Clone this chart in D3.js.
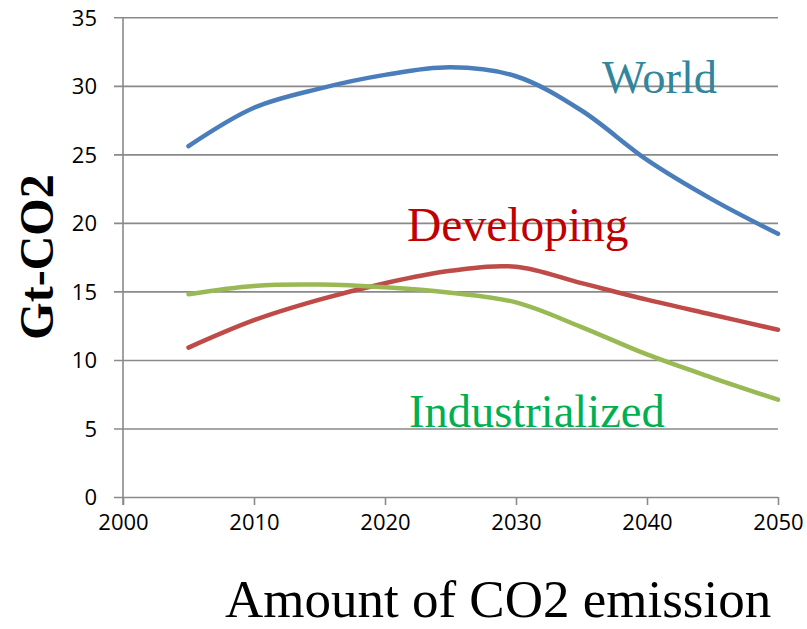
<!DOCTYPE html>
<html><head><meta charset="utf-8">
<script src="https://cdn.jsdelivr.net/npm/d3@7"></script>
<style>
html,body{margin:0;padding:0;background:#fff;}
svg{display:block;}
</style></head>
<body>
<svg id="chart" width="807" height="629"></svg>
<script>
const years = [2005, 2010, 2015, 2020, 2025, 2030, 2035, 2040, 2045, 2050];
const world = [25.6, 28.4, 29.8, 30.8, 31.35, 30.7, 28.2, 24.6, 21.7, 19.2];
const developing = [10.9, 12.9, 14.4, 15.6, 16.5, 16.8, 15.6, 14.4, 13.3, 12.2];
const industrialized = [14.8, 15.4, 15.5, 15.3, 14.9, 14.2, 12.4, 10.4, 8.7, 7.1];
const xTicks = [2000, 2010, 2020, 2030, 2040, 2050];
const yTicks = [0, 5, 10, 15, 20, 25, 30, 35];
const seriesNames = ["World", "Developing", "Industrialized"];

const svg = d3.select("#chart");
const x = d3.scaleLinear().domain([2000, 2050]).range([123, 778]);
const y = d3.scaleLinear().domain([0, 35]).range([497, 17.3]);
const grid = "#8a8a8a";

// gridlines / y axis
const yAxis = d3.axisLeft(y).tickValues(yTicks).tickSize(-(778 - 114)).tickPadding(0).tickFormat(d => d);
const gy = svg.append("g").attr("transform", "translate(114,0)").call(yAxis);
gy.select(".domain").remove();
gy.selectAll(".tick line").attr("stroke", grid).attr("stroke-width", 1.6).attr("x1", 0).attr("x2", 778 - 114);
gy.selectAll(".tick text").attr("x", -17).attr("dy", "0.35em")
  .attr("font-family", "'Open Sans', sans-serif").attr("font-size", 22).attr("fill", "#000");

// vertical axis line
svg.append("line").attr("x1", x(2000)).attr("x2", x(2000)).attr("y1", y(35)).attr("y2", y(0) + 8)
  .attr("stroke", grid).attr("stroke-width", 1.6);

// x axis
const xAxis = d3.axisBottom(x).tickValues(xTicks).tickSize(8).tickPadding(9).tickFormat(d => d);
const gx = svg.append("g").attr("transform", `translate(0,${y(0)})`).call(xAxis);
gx.select(".domain").remove();
gx.selectAll(".tick line").attr("stroke", grid).attr("stroke-width", 1.6);
gx.selectAll(".tick text").attr("font-family", "'Open Sans', sans-serif").attr("font-size", 22).attr("fill", "#000");

// lines
const line = d3.line().x((d, i) => x(years[i])).y(d => y(d)).curve(d3.curveCatmullRom.alpha(0.5));
const series = [
  {name: seriesNames[0], values: world, color: "#4a7ebb"},
  {name: seriesNames[1], values: developing, color: "#be4b48"},
  {name: seriesNames[2], values: industrialized, color: "#98b954"}
];
svg.selectAll("path.series").data(series).enter().append("path")
  .attr("class", "series")
  .attr("d", d => line(d.values))
  .attr("fill", "none").attr("stroke", d => d.color).attr("stroke-width", 4.5)
  .attr("stroke-linecap", "round").attr("stroke-linejoin", "round");

// series labels
const serif = "'Liberation Serif', 'Times New Roman', serif";
svg.append("text").attr("x", 602).attr("y", 93).text(seriesNames[0])
  .attr("font-family", serif).attr("font-size", 46.5).attr("fill", "#31859c");
svg.append("text").attr("x", 407).attr("y", 241).text(seriesNames[1])
  .attr("font-family", serif).attr("font-size", 47.5).attr("fill", "#c00000");
svg.append("text").attr("x", 409).attr("y", 427).text(seriesNames[2])
  .attr("font-family", serif).attr("font-size", 46.5).attr("fill", "#00b050");

// axis titles
svg.append("text").attr("transform", "translate(53,257) rotate(-90)").attr("text-anchor", "middle")
  .text("Gt-CO2").attr("font-family", serif).attr("font-weight", "bold").attr("font-size", 48).attr("fill", "#000");
svg.append("text").attr("x", 225).attr("y", 617).text("Amount of CO2 emission")
  .attr("font-family", serif).attr("font-size", 53).attr("fill", "#000");
</script>
</body></html>
